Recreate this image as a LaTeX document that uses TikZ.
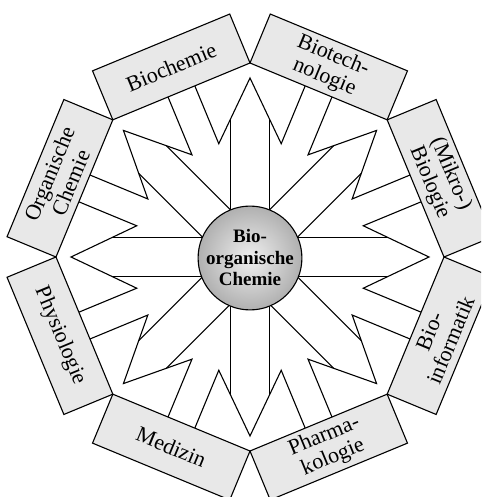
\documentclass[tikz,border=0pt]{standalone}
\usepackage{fontspec}
\setmainfont{Liberation Serif}
\definecolor{boxgray}{gray}{0.91}
\begin{document}
\begin{tikzpicture}[x=1pt,y=1pt,line width=1.1pt,line join=miter,
  box/.style={draw,fill=boxgray,minimum width=148.5pt,minimum height=53pt,inner sep=0pt,align=center,font=\fontsize{22}{23}\selectfont},
  hub/.style={circle,draw,minimum size=100pt,inner sep=0pt,align=center,inner color=gray!12,outer color=gray!62,font=\bfseries\fontsize{19}{21.5}\selectfont}]
\clip (-250,-240) rectangle (231,257);
\fill[white] (-250,-240) rectangle (231,257);
% arrows towards the octagon vertices
\foreach \t in {0,45,...,315}{
  \begin{scope}[rotate=\t]
    \coordinate (q1) at (171.14,-55.19);
    \coordinate (p1) at (113.26,-31.21);
    \coordinate (tip) at (179,0);
    \coordinate (p2) at (113.26,31.21);
    \coordinate (q2) at (171.14,55.19);
    \draw (q1) -- (p1) -- (tip) -- (p2) -- (q2);
    \coordinate (s1) at (40,19.5);
    \coordinate (e1) at (137.93,19.5);
    \coordinate (s2) at (40,-19.5);
    \coordinate (e2) at (137.93,-19.5);
    \draw (s1) -- (e1);
    \draw (s2) -- (e2);
  \end{scope}
}
% boxes
\node[box,rotate=22.5]  (biochem) at (112.5:205.73) {Biochemie};
\node[box,rotate=-22.5] (biotech) at (67.5:205.73) {Biotech-\\nologie};
\node[box,rotate=-67.5] (mikro)   at (22.5:205.73) {(Mikro-)\\Biologie};
\node[box,rotate=67.5]  (bioinf)  at (-22.5:205.73) {Bio-\\informatik};
\node[box,rotate=22.5]  (pharma)  at (-67.5:205.73) {Pharma-\\kologie};
\node[box,rotate=-22.5] (medizin) at (-112.5:205.73) {Medizin};
\node[box,rotate=-67.5] (physio)  at (-157.5:205.73) {Physiologie};
\node[box,rotate=67.5]  (orgchem) at (157.5:205.73) {Organische\\Chemie};
% centre
\node[hub] (hubnode) at (0,-1) {Bio-\\organische\\Chemie};
\end{tikzpicture}
\end{document}
